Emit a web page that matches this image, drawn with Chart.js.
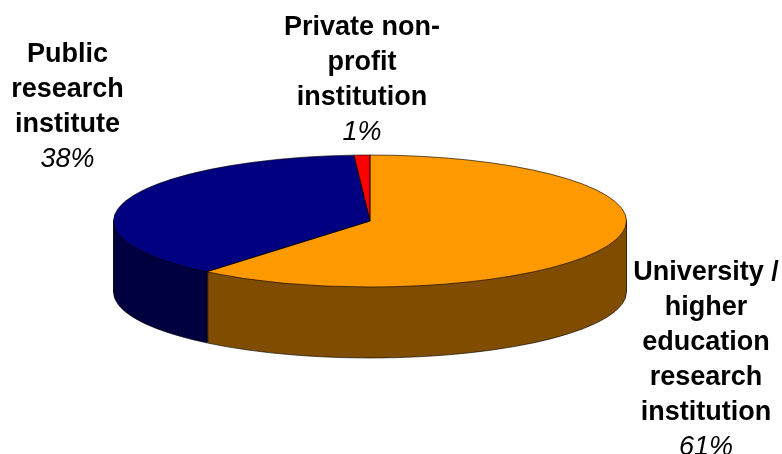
<!DOCTYPE html>
<html>
<head>
<meta charset="utf-8">
<style>
  html, body { margin: 0; padding: 0; background: #fff; }
  #wrap { position: relative; width: 782px; height: 454px; }
</style>
<script src="https://cdn.jsdelivr.net/npm/chart.js@4/dist/chart.umd.min.js"></script>
</head>
<body>
<div id="wrap"><canvas id="pie" width="782" height="454"></canvas></div>
<script>
// Institution types and their share of the total, in percent.
const categories = [
  'University / higher education research institution',
  'Public research institute',
  'Private non-profit institution'
];
const shares = [61, 38, 1];

// Line breaks of each category label.
const labelLines = [
  ['University /', 'higher', 'education', 'research', 'institution'],
  ['Public', 'research', 'institute'],
  ['Private non-', 'profit', 'institution']
];

const topColors = ['#FF9900', '#000080', '#FF0000'];
const wallColors = ['#804D00', '#000040', '#800000'];

// Geometry of the tilted disc.
const radiusX = 256.5;
const radiusY = 66;
const depth = 71;

// Centre x and first baseline-middle y of each label block.
const labelX = [706, 67.5, 362];
const labelY = [273, 55, 28];
const lineStep = 34.8;

function squash(ctx, arc, shift) {
  ctx.translate(arc.x, arc.y + shift);
  ctx.scale(1, radiusY / radiusX);
  ctx.translate(-arc.x, -arc.y);
}

const tiltedDisc = {
  id: 'tiltedDisc',
  // Side wall: darker copies of the slices stacked below the top face.
  beforeDatasetsDraw(chart) {
    const ctx = chart.ctx;
    const arcs = chart.getDatasetMeta(0).data;
    for (let d = depth; d >= 1; d--) {
      arcs.forEach((arc, i) => {
        const own = arc.options;
        arc.options = Object.assign({}, own, { backgroundColor: wallColors[i], borderWidth: 0 });
        ctx.save();
        squash(ctx, arc, d);
        arc.draw(ctx);
        ctx.restore();
        arc.options = own;
      });
    }
  },
  beforeDatasetDraw(chart) {
    const arc = chart.getDatasetMeta(0).data[0];
    chart.ctx.save();
    squash(chart.ctx, arc, 0);
  },
  afterDatasetDraw(chart) {
    chart.ctx.restore();
  },
  // Hairline outlines and category labels on top.
  afterDatasetsDraw(chart) {
    const ctx = chart.ctx;
    const arcs = chart.getDatasetMeta(0).data;
    ctx.lineWidth = 1;
    ctx.strokeStyle = 'rgba(0,0,0,0.62)';

    arcs.forEach(arc => {
      ctx.save();
      squash(ctx, arc, 0);
      ctx.beginPath();
      ctx.arc(arc.x, arc.y, arc.outerRadius, arc.startAngle, arc.endAngle);
      ctx.lineTo(arc.x, arc.y);
      ctx.closePath();
      ctx.restore();
      ctx.stroke();
    });

    // Lower rim of the wall, the two silhouette edges and the seam between slices.
    const c = arcs[0];
    ctx.save();
    squash(ctx, c, depth);
    ctx.beginPath();
    ctx.arc(c.x, c.y, c.outerRadius, 0, Math.PI);
    ctx.restore();
    ctx.stroke();
    const ky = radiusY / radiusX;
    const verticals = [0, Math.PI, arcs[0].endAngle];
    verticals.forEach(a => {
      const x = c.x + c.outerRadius * Math.cos(a);
      const y = c.y + c.outerRadius * ky * Math.sin(a);
      ctx.beginPath();
      ctx.moveTo(x, y);
      ctx.lineTo(x, y + depth);
      ctx.stroke();
    });

    ctx.fillStyle = '#000';
    ctx.textAlign = 'center';
    ctx.textBaseline = 'middle';
    labelLines.forEach((lines, i) => {
      ctx.font = 'bold 27px "Liberation Sans", Arial, sans-serif';
      lines.forEach((line, n) => ctx.fillText(line, labelX[i], labelY[i] + n * lineStep));
      ctx.font = 'italic 27px "Liberation Sans", Arial, sans-serif';
      ctx.fillText(shares[i] + '%', labelX[i], labelY[i] + lines.length * lineStep);
    });
  }
};

new Chart(document.getElementById('pie'), {
  type: 'pie',
  data: {
    labels: categories,
    datasets: [{
      data: shares,
      backgroundColor: topColors,
      borderWidth: 0
    }]
  },
  options: {
    responsive: false,
    animation: false,
    radius: radiusX,
    layout: { padding: { right: 42, bottom: 12 } },
    plugins: {
      legend: { display: false },
      tooltip: { enabled: false }
    }
  },
  plugins: [tiltedDisc]
});
</script>
</body>
</html>
